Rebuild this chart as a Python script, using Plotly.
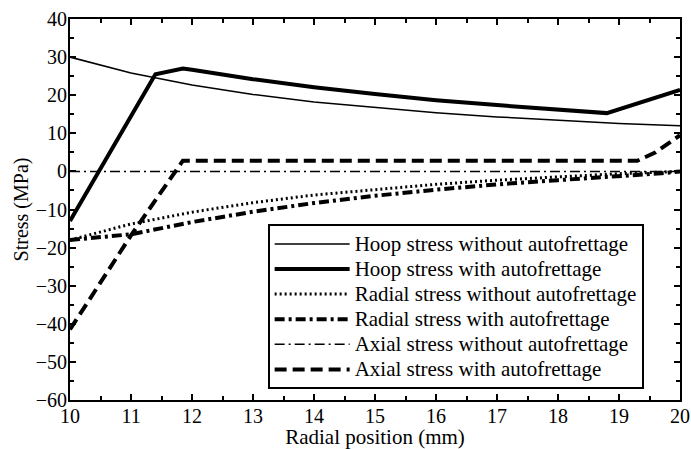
import plotly.graph_objects as go

# Data
r_hoop_wo = [10, 11, 12, 13, 14, 15, 16, 17, 18, 19, 20]
hoop_wo = [30, 25.8, 22.7, 20.2, 18.2, 16.7, 15.4, 14.3, 13.4, 12.6, 12.0]

r_hoop_w = [10, 11.4, 11.85, 12, 13, 14, 15, 16, 17, 18, 18.8, 20]
hoop_w = [-13, 25.5, 27, 26.7, 24.2, 22.1, 20.3, 18.7, 17.4, 16.2, 15.3, 21.4]

r_rad_wo = [10, 11, 12, 13, 14, 15, 16, 17, 18, 19, 20]
rad_wo = [-18, -13.8, -10.7, -8.2, -6.2, -4.7, -3.4, -2.3, -1.4, -0.6, 0]

r_rad_w = [10, 11, 12, 13, 14, 15, 16, 17, 18, 19, 19.7, 20]
rad_w = [-18, -16.5, -13.3, -10.6, -8.3, -6.4, -4.8, -3.4, -2.3, -1.3, -0.5, 0]

r_ax_wo = [10, 20]
ax_wo = [0, 0]

r_ax_w = [10, 11, 11.85, 19.3, 19.6, 20]
ax_w = [-41.5, -16.8, 2.8, 2.8, 5, 9.5]

names = [
    "Hoop stress without autofrettage",
    "Hoop stress with autofrettage",
    "Radial stress without autofrettage",
    "Radial stress with autofrettage",
    "Axial stress without autofrettage",
    "Axial stress with autofrettage",
]

series = [
    (r_hoop_wo, hoop_wo, 1.5, "solid"),
    (r_hoop_w, hoop_w, 4, "solid"),
    (r_rad_wo, rad_wo, 3, "2px,3px"),
    (r_rad_w, rad_w, 4, "10px,4px,3px,4px"),
    (r_ax_wo, ax_wo, 1.5, "10px,4px,2px,4px"),
    (r_ax_w, ax_w, 4, "12px,6px"),
]

fig = go.Figure()
for (x, y, w, d), n in zip(series, names):
    fig.add_trace(go.Scatter(x=x, y=y, mode="lines",
                             name='<span style="font-size:21px">' + n + "</span>",
                             line=dict(color="black", width=w, dash=d)))

font = "Liberation Serif, Times New Roman, serif"
axis_common = dict(
    showline=True, linecolor="black", linewidth=2, mirror="ticks",
    ticks="inside", ticklen=6, tickwidth=2, tickcolor="black",
    showgrid=False, zeroline=False, automargin=False,
    tickfont=dict(family=font, size=20, color="black"),
)

fig.update_xaxes(range=[10, 20], dtick=1, tick0=10, ticklabelstandoff=-3,
                 minor=dict(ticks="inside", ticklen=4, tickwidth=2, dtick=0.5, tickcolor="black"),
                 title=dict(text="Radial position (mm)", font=dict(family=font, size=21, color="black"), standoff=0),
                 **axis_common)
fig.update_yaxes(range=[-60, 40], dtick=10, tick0=0, ticklabelstandoff=-3,
                 minor=dict(ticks="inside", ticklen=4, tickwidth=2, dtick=5, tickcolor="black"),
                 title=dict(text="Stress (MPa)", font=dict(family=font, size=20, color="black"), standoff=2),
                 **axis_common)

fig.update_layout(
    width=691, height=449,
    margin=dict(l=70, r=11, t=19, b=49, autoexpand=False),
    paper_bgcolor="white", plot_bgcolor="white",
    showlegend=True,
    legend=dict(x=0.324, y=0.461, xanchor="left", yanchor="top",
                bgcolor="white", bordercolor="black", borderwidth=2,
                font=dict(family=font, size=17, color="black"),
                itemwidth=75, tracegroupgap=0, traceorder="normal"),
)

fig.write_html("out.html")
